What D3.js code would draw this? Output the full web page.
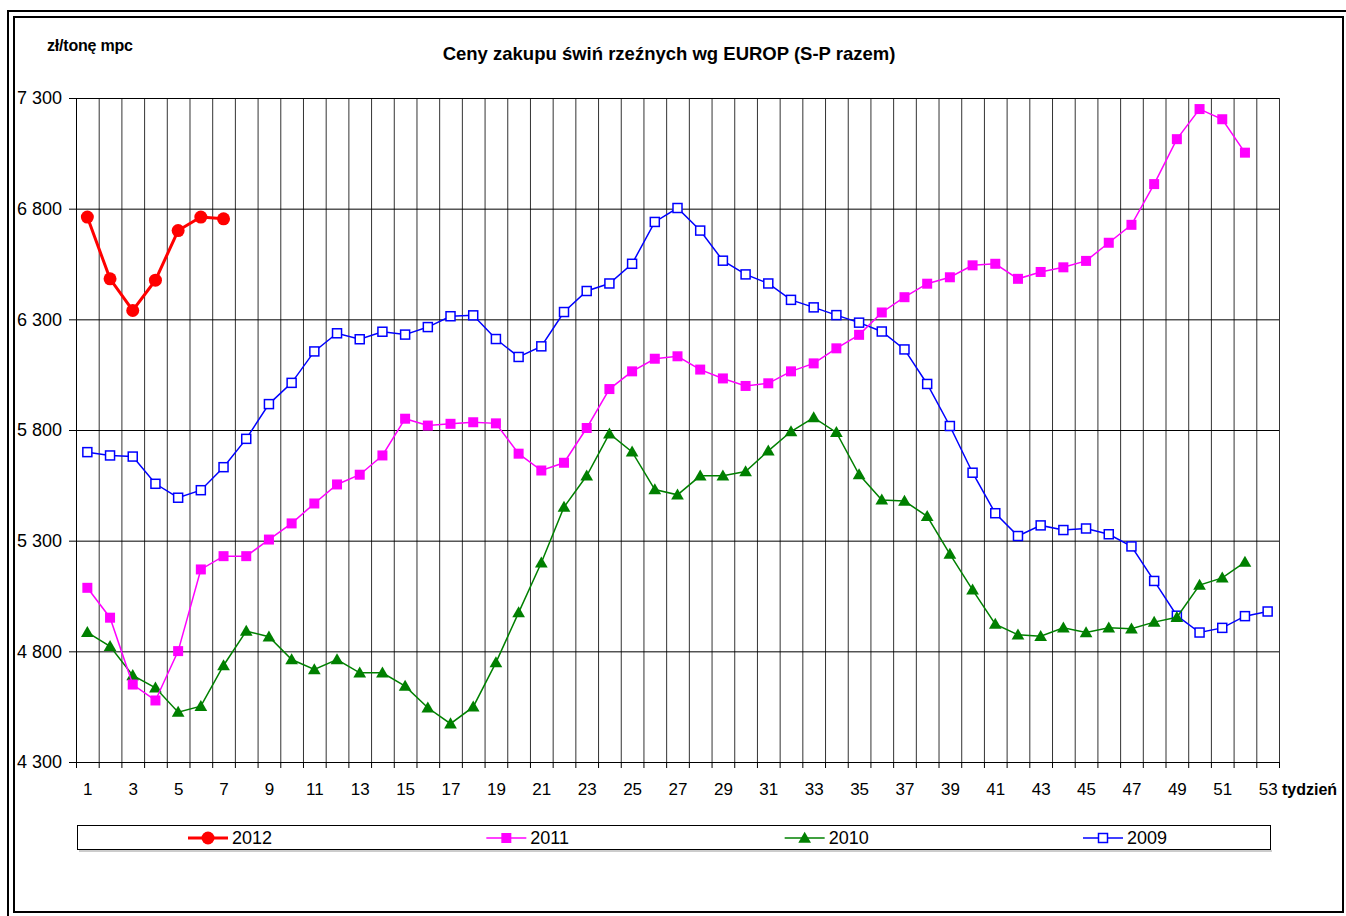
<!DOCTYPE html>
<html>
<head>
<meta charset="utf-8">
<script src="https://cdn.jsdelivr.net/npm/d3@7"></script>
<style>
  body { margin: 0; background: #fff; }
  svg { display: block; font-family: "Liberation Sans", Arial, sans-serif; }
</style>
</head>
<body>
<svg id="chart" width="1346" height="916"></svg>
<script>
// weeks on x axis
const weeks = d3.range(1, 54);
const xLabels = d3.range(1, 54, 2);
const yTicks = [4300, 4800, 5300, 5800, 6300, 6800, 7300];

// price per week, zł/tonę mpc
const s2012 = [6762, 6483, 6340, 6477, 6701, 6762, 6754];
const s2011 = [5087, 4952, 4650, 4578, 4801, 5170, 5230, 5230, 5305, 5378,
  5468, 5554, 5598, 5685, 5851, 5820, 5828, 5835, 5830, 5693,
  5617, 5652, 5809, 5985, 6065, 6122, 6133, 6073, 6033, 5999,
  6011, 6065, 6101, 6169, 6230, 6331, 6400, 6461, 6490, 6544,
  6551, 6483, 6514, 6535, 6564, 6646, 6727, 6911, 7114, 7250,
  7204, 7053];
const s2010 = [4886, 4823, 4691, 4635, 4525, 4552, 4736, 4891, 4866, 4763,
  4718, 4763, 4703, 4703, 4643, 4545, 4473, 4549, 4749, 4975,
  5200, 5452, 5593, 5783, 5701, 5531, 5507, 5593, 5593, 5612,
  5706, 5793, 5856, 5789, 5599, 5484, 5479, 5410, 5239, 5078,
  4923, 4875, 4868, 4906, 4885, 4906, 4902, 4932, 4954, 5099,
  5132, 5203];
const s2009 = [5700, 5685, 5680, 5557, 5494, 5528, 5632, 5760, 5917, 6013,
  6155, 6237, 6210, 6244, 6231, 6265, 6314, 6318, 6211, 6130,
  6178, 6333, 6428, 6462, 6551, 6740, 6803, 6701, 6565, 6503,
  6462, 6388, 6354, 6319, 6285, 6245, 6164, 6008, 5818, 5607,
  5424, 5321, 5369, 5348, 5355, 5329, 5274, 5118, 4961, 4885,
  4906, 4959, 4980];

const seriesNames = ["2012", "2011", "2010", "2009"];
const seriesValues = [s2012, s2011, s2010, s2009];

const svg = d3.select("svg#chart");

const plotL = 76, plotR = 1279, plotT = 98, plotB = 762;

const x = d3.scaleLinear().domain([0.5, 53.5]).range([plotL, plotR]);
const y = d3.scaleLinear().domain([4300, 7300]).range([plotB, plotT]);

const fmt = d3.formatLocale({ decimal: ",", thousands: " ", grouping: [3], currency: ["", " zł"] }).format(",");

// outer frame
svg.append("rect").attr("x", 8).attr("y", 11).attr("width", 1345).attr("height", 910)
  .attr("fill", "none").attr("stroke", "#000").attr("stroke-width", 2);
svg.append("rect").attr("x", 14).attr("y", 17).attr("width", 1329).attr("height", 895)
  .attr("fill", "none").attr("stroke", "#000").attr("stroke-width", 2);

// titles
svg.append("text").attr("x", 47).attr("y", 51)
  .style("font-weight", "bold").style("font-size", "16px").style("letter-spacing", "-0.2px")
  .text("zł/tonę mpc");
svg.append("text").attr("x", 669).attr("y", 60).attr("text-anchor", "middle")
  .style("font-weight", "bold").style("font-size", "18.5px")
  .text("Ceny zakupu świń rzeźnych wg EUROP (S-P razem)");

// grid
const bounds = d3.range(0.5, 54, 1);
svg.append("g").attr("transform", `translate(0,${plotB})`)
  .call(d3.axisBottom(x).tickValues(bounds).tickSize(-(plotB - plotT)).tickFormat(""))
  .call(g => g.select(".domain").remove())
  .call(g => g.selectAll("line").attr("stroke", "#333"));
svg.append("g").attr("transform", `translate(${plotL},0)`)
  .call(d3.axisLeft(y).tickValues(yTicks).tickSize(-(plotR - plotL)).tickFormat(""))
  .call(g => g.select(".domain").remove())
  .call(g => g.selectAll("line").attr("stroke", "#000"));

// axes
svg.append("g").attr("transform", `translate(0,${plotB})`)
  .call(d3.axisBottom(x).tickValues(bounds).tickSize(6).tickFormat(""))
  .call(g => g.selectAll("line, path").attr("stroke", "#000"));
svg.append("g").attr("transform", `translate(0,${plotB})`)
  .call(d3.axisBottom(x).tickValues(xLabels).tickSize(0).tickPadding(21))
  .call(g => g.select(".domain").remove())
  .call(g => g.selectAll("text").style("font-size", "17px").attr("fill", "#000").style("font-family", "'Liberation Sans', Arial"));
svg.append("g").attr("transform", `translate(${plotL},0)`)
  .call(d3.axisLeft(y).tickValues(yTicks).tickSize(7).tickPadding(7).tickFormat(fmt))
  .call(g => g.selectAll("line, path").attr("stroke", "#000"))
  .call(g => g.selectAll("text").style("font-size", "18px").attr("fill", "#000").style("font-family", "'Liberation Sans', Arial"));
svg.append("text").attr("x", 1282).attr("y", 795)
  .style("font-weight", "bold").style("font-size", "16px")
  .text("tydzień");

// series
const styles = {
  "2012": { color: "#ff0000", width: 3 },
  "2011": { color: "#ff00ff", width: 1.5 },
  "2010": { color: "#008000", width: 1.5 },
  "2009": { color: "#0000ff", width: 1.5 }
};

const line = d3.line().x((d, i) => x(i + 1)).y(d => y(d));

function marker(g, name, cx, cy) {
  const c = styles[name].color;
  if (name === "2012") {
    g.append("circle").attr("cx", cx).attr("cy", cy).attr("r", 6.5).attr("fill", c);
  } else if (name === "2011") {
    g.append("rect").attr("x", cx - 5).attr("y", cy - 5).attr("width", 10).attr("height", 10).attr("fill", c);
  } else if (name === "2010") {
    g.append("path").attr("d", d3.symbol(d3.symbolTriangle, 70)())
      .attr("transform", `translate(${cx},${cy + 1})`).attr("fill", c);
  } else {
    g.append("rect").attr("x", cx - 4.5).attr("y", cy - 4.5).attr("width", 9).attr("height", 9)
      .attr("fill", "#fff").attr("stroke", c).attr("stroke-width", 1.5);
  }
}

// draw oldest first so 2012 ends up on top
[3, 2, 1, 0].forEach(k => {
  const name = seriesNames[k];
  const vals = seriesValues[k];
  const g = svg.append("g");
  g.append("path").datum(vals).attr("d", line)
    .attr("fill", "none").attr("stroke", styles[name].color).attr("stroke-width", styles[name].width);
  vals.forEach((v, i) => marker(g, name, x(i + 1), y(v)));
});

// legend
const legend = svg.append("g");
legend.append("line").attr("x1", 79).attr("x2", 1272).attr("y1", 851).attr("y2", 851)
  .attr("stroke", "#ccc").attr("stroke-width", 2);
legend.append("rect").attr("x", 77.5).attr("y", 825.5).attr("width", 1193).attr("height", 24)
  .attr("fill", "#fff").attr("stroke", "#000");
const legX = d3.scalePoint().domain(seriesNames).range([188, 1083]);
seriesNames.forEach(name => {
  const lx = legX(name);
  const g = legend.append("g");
  g.append("line").attr("x1", lx).attr("x2", lx + 40).attr("y1", 838).attr("y2", 838)
    .attr("stroke", styles[name].color).attr("stroke-width", styles[name].width);
  marker(g, name, lx + 20, 838);
  g.append("text").attr("x", lx + 44).attr("y", 844)
    .style("font-size", "18px").text(name);
});
</script>
</body>
</html>
